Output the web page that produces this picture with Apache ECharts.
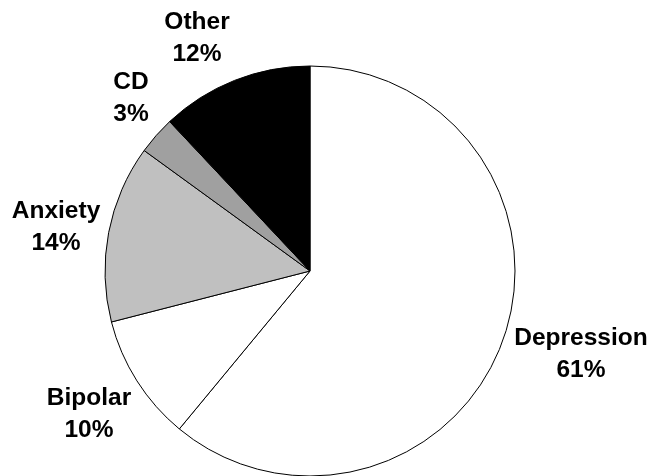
<!DOCTYPE html>
<html>
<head>
<meta charset="utf-8">
<script src="https://cdn.jsdelivr.net/npm/echarts@6/dist/echarts.min.js"></script>
<style>html,body{margin:0;padding:0;background:#fff;}#c{width:654px;height:476px;}</style>
</head>
<body>
<div id="c"></div>
<script>
const categories = ['Depression', 'Bipolar', 'Anxiety', 'CD', 'Other'];
const values = [61, 10, 14, 3, 12];
const sliceColors = ['#ffffff', '#ffffff', '#c0c0c0', '#a0a0a0', '#000000'];
// label anchor points (text block centres), in px
const labelAnchors = [[581, 354], [89, 414], [56, 227], [131, 98], [197, 38]];

const chart = echarts.init(document.getElementById('c'));
chart.setOption({
  backgroundColor: '#ffffff',
  animation: false,
  series: [{
    type: 'pie',
    center: [310, 271],
    radius: 205,
    startAngle: 90,
    clockwise: true,
    silent: true,
    avoidLabelOverlap: false,
    data: categories.map((n, i) => ({
      name: n, value: values[i],
      itemStyle: { color: sliceColors[i] }
    })),
    itemStyle: { borderColor: '#000000', borderWidth: 1 },
    label: {
      show: true,
      position: 'outside',
      formatter: '{b}\n{c}%',
      fontFamily: '"Liberation Sans", Arial, sans-serif',
      fontWeight: 'bold',
      fontSize: 24.5,
      lineHeight: 32,
      color: '#000000',
      align: 'center'
    },
    labelLine: { show: false },
    labelLayout: function (p) {
      const a = labelAnchors[p.dataIndex];
      return { x: a[0], y: a[1], align: 'center', verticalAlign: 'middle' };
    }
  }]
});
</script>
</body>
</html>
